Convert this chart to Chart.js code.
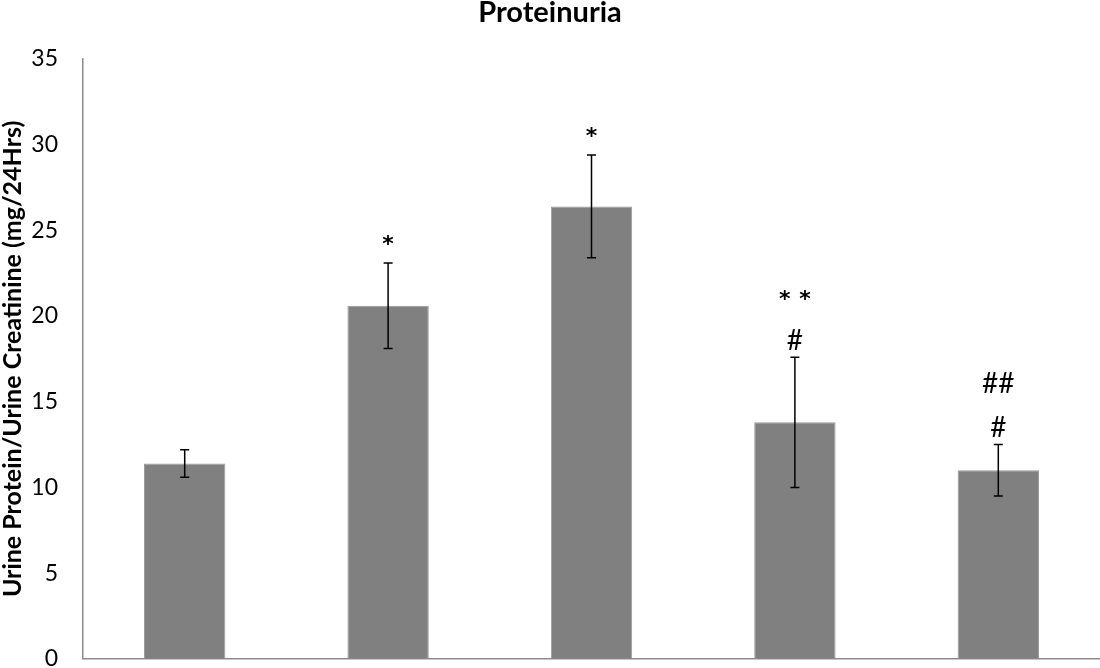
<!DOCTYPE html>
<html>
<head>
<meta charset="utf-8">
<script src="https://cdn.jsdelivr.net/npm/chart.js@4/dist/chart.umd.min.js"></script>
<style>
    html, body { margin: 0; padding: 0; background: #fff; overflow: hidden; }
    canvas { display: block; }
</style>
</head>
<body>
<canvas id="proteinuria" width="1100" height="668"></canvas>
<script>
// values
var groups = ['Group 1', 'Group 2', 'Group 3', 'Group 4', 'Group 5'];
var means = [11.4, 20.6, 26.4, 13.8, 11.0];
var errors = [0.8, 2.5, 3.0, 3.8, 1.5];
// significance marks, bottom line first
var marks = [[], ['*'], ['*'], ['#', '**'], ['#', '##']];
var yTicks = [0, 5, 10, 15, 20, 25, 30, 35];

var FONT = 'Lato, "DejaVu Sans", sans-serif';

// draws text so that the glyphs' visual centre sits on (x, y)
var fillCentered = function (ctx, txt, x, y) {
    ctx.textBaseline = 'alphabetic';
    var m = ctx.measureText(txt);
    var off = (m.actualBoundingBoxAscent - m.actualBoundingBoxDescent) / 2;
    ctx.fillText(txt, x, y + off);
};

// error bars + significance labels drawn over the bars
var errorBarPlugin = {
    id: 'errorBars',
    afterDatasetsDraw: function (chart) {
        var ctx = chart.ctx;
        var meta = chart.getDatasetMeta(0);
        var yScale = chart.scales.y;
        ctx.save();
        ctx.strokeStyle = '#000';
        ctx.lineWidth = 1.5;
        for (var i = 0; i < means.length; i++) {
            var x = meta.data[i].x;
            var top = yScale.getPixelForValue(means[i] + errors[i]);
            var bottom = yScale.getPixelForValue(means[i] - errors[i]);
            ctx.beginPath();
            ctx.moveTo(x, top);
            ctx.lineTo(x, bottom);
            ctx.moveTo(x - 4.5, top);
            ctx.lineTo(x + 4.5, top);
            ctx.moveTo(x - 4.5, bottom);
            ctx.lineTo(x + 4.5, bottom);
            ctx.stroke();

            ctx.fillStyle = '#000';
            ctx.textAlign = 'center';
            var y = top;
            for (var j = 0; j < marks[i].length; j++) {
                var txt = marks[i][j];
                var isStar = txt.charAt(0) === '*';
                y -= (j === 0 ? (isStar ? 23 : 18) : 44);
                if (isStar) {
                    ctx.font = 'bold 22px "DejaVu Sans", sans-serif';
                    fillCentered(ctx, txt.split('').join('\u2009\u2009'), x, y);
                } else {
                    ctx.font = '28px ' + FONT;
                    fillCentered(ctx, txt, x, y);
                }
            }
        }
        ctx.restore();
    }
};

var config = {
    type: 'bar',
    data: {
        labels: groups,
        datasets: [{
            data: means,
            backgroundColor: '#808080',
            borderColor: '#9a9a9a',
            borderWidth: 1,
            categoryPercentage: 0.4,
            barPercentage: 1
        }]
    },
    options: {
        responsive: false,
        animation: false,
        layout: { padding: { top: 0, right: 0, bottom: 9, left: 0 } },
        plugins: {
            legend: { display: false },
            tooltip: { enabled: false },
            title: {
                display: true,
                text: 'Proteinuria',
                color: '#000',
                font: { family: FONT, size: 29, weight: 'bold', lineHeight: 0.9 },
                padding: { top: 0, bottom: 32.9 }
            }
        },
        scales: {
            x: {
                afterFit: function (scale) {
                    scale.height = 0;
                },
                grid: { display: false, drawTicks: false },
                border: { color: '#8c8c8c', width: 1.5 },
                ticks: { display: false }
            },
            y: {
                min: 0,
                max: 35,
                afterBuildTicks: function (scale) {
                    scale.ticks = yTicks.map(function (v) { return { value: v }; });
                },
                afterFit: function (scale) {
                    scale.width = 83;
                },
                // tick marks hidden, their length only keeps the labels off the axis
                grid: { display: false, drawTicks: true, tickLength: 25 },
                border: { color: '#8c8c8c', width: 1.5 },
                ticks: {
                    color: '#000',
                    padding: 0,
                    font: { family: FONT, size: 23, lineHeight: 0.8 }
                },
                title: {
                    display: true,
                    text: 'Urine Protein/Urine Creatinine (mg/24Hrs)',
                    color: '#000',
                    font: { family: FONT, size: 25, weight: 'bold', lineHeight: 1.0 },
                    padding: { top: 0, bottom: 0 }
                }
            }
        }
    },
    plugins: [errorBarPlugin]
};

new Chart(document.getElementById('proteinuria'), config);
</script>
</body>
</html>
